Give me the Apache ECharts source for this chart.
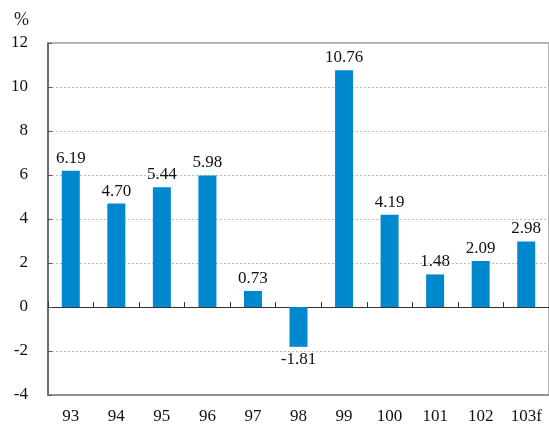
<!DOCTYPE html>
<html><head><meta charset="utf-8">
<script src="https://cdn.jsdelivr.net/npm/echarts@6/dist/echarts.min.js"></script>
<style>html,body{margin:0;padding:0;background:#fff}#c{width:549px;height:425px}</style>
</head><body><div id="c"></div>
<script>
const categories = ['93','94','95','96','97','98','99','100','101','102','103f'];
const values = [6.19, 4.70, 5.44, 5.98, 0.73, -1.81, 10.76, 4.19, 1.48, 2.09, 2.98];
const unitLabel = '%';
const FONT = '"Liberation Serif","Times New Roman",serif';
const chart = echarts.init(document.getElementById('c'));
chart.setOption({
  animation: false,
  grid: {left: 48, top: 43, bottom: 28, right: -4, show: true, borderColor: '#999', borderWidth: 1.5, backgroundColor: 'transparent'},
  graphic: [{type: 'text', left: 14, top: 11, style: {text: unitLabel, fontSize: 18, fontFamily: FONT, fill: '#222'}}],
  xAxis: [
    {type: 'category', data: categories, position: 'bottom',
     axisLine: {onZero: false, lineStyle: {color: '#888', width: 1.5}},
     axisTick: {show: false},
     axisLabel: {fontSize: 17, fontFamily: FONT, color: '#111', margin: 13}},
    {type: 'category', data: categories, position: 'bottom',
     axisLine: {onZero: true, lineStyle: {color: '#333', width: 1}},
     axisTick: {show: true, inside: true, length: 5, lineStyle: {color: '#333'}},
     axisLabel: {show: false}}
  ],
  yAxis: {type: 'value', min: -4, max: 12, interval: 2,
    axisLine: {show: true, lineStyle: {color: '#555', width: 1.5}},
    axisTick: {show: true, inside: true, length: 4, lineStyle: {color: '#555'}},
    axisLabel: {fontSize: 17, fontFamily: FONT, color: '#111', margin: 20},
    splitLine: {show: true, lineStyle: {color: '#bbb', width: 1, type: [2, 2]}}},
  series: [{
    type: 'bar', xAxisIndex: 0, barWidth: 18,
    itemStyle: {color: '#0088CF'},
    data: values.map(v => ({value: v, label: {position: v < 0 ? 'bottom' : 'top'}})),
    label: {show: true, distance: 4, fontSize: 17, fontFamily: FONT, color: '#111',
      formatter: p => p.value.toFixed(2)}
  }]
});
</script></body></html>
